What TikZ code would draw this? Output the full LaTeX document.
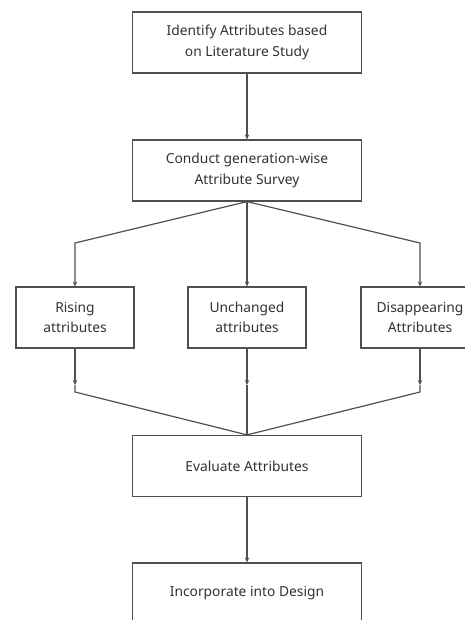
\documentclass[tikz,border=0pt]{standalone}
\usepackage{fontspec}
\setmainfont{Noto Sans}
\usepackage{tikz}
\usetikzlibrary{arrows.meta, positioning}
\definecolor{linegray}{RGB}{80, 80, 80}
\definecolor{textgray}{RGB}{50, 50, 50}

\begin{document}
\begin{tikzpicture}[
  x=1pt, y=-1pt,
  box/.style={draw=linegray, line width=1.2pt, fill=white, minimum width=229pt, minimum height=61pt, align=center, text=textgray, font=\fontsize{13.8}{20.5}\selectfont},
  sbox/.style={box, minimum width=118pt},
  flow/.style={draw=linegray, line width=1.2pt},
  arr/.style={flow, -{Stealth[length=5pt, width=4.5pt]}}
]
  \clip (0, 0) rectangle (465, 620);
  \fill[white] (0, 0) rectangle (465, 620);

  \node[box] (lit) at (247, 42.5) {Identify Attributes based\\on Literature Study};
  \node[box] (survey) at (247, 170.5) {Conduct generation-wise\\Attribute Survey};
  \node[sbox] (rise) at (75, 317.5) {Rising\\attributes};
  \node[sbox] (same) at (247, 317.5) {Unchanged\\attributes};
  \node[sbox] (gone) at (420, 317.5) {Disappearing\\Attributes};
  \node[box] (eval) at (247, 466) {Evaluate Attributes};
  \node[box] (design) at (247, 593.5) {Incorporate into Design};

  \coordinate (riseend) at (75, 385);
  \coordinate (sameend) at (247, 385);
  \coordinate (goneend) at (420, 385);

  \draw[arr] (lit) -- (survey);
  \draw[arr] (survey.south) -- (75, 243) -- (rise.north);
  \draw[arr] (survey.south) -- (same.north);
  \draw[arr] (survey.south) -- (420, 243) -- (gone.north);
  \draw[arr] (rise.south) -- (riseend);
  \draw[arr] (same.south) -- (sameend);
  \draw[arr] (gone.south) -- (goneend);
  \draw[flow] (riseend) -- (75, 392) -- (eval.north);
  \draw[flow] (sameend) -- (eval.north);
  \draw[flow] (goneend) -- (420, 392) -- (eval.north);
  \draw[arr] (eval) -- (design);
\end{tikzpicture}
\end{document}
